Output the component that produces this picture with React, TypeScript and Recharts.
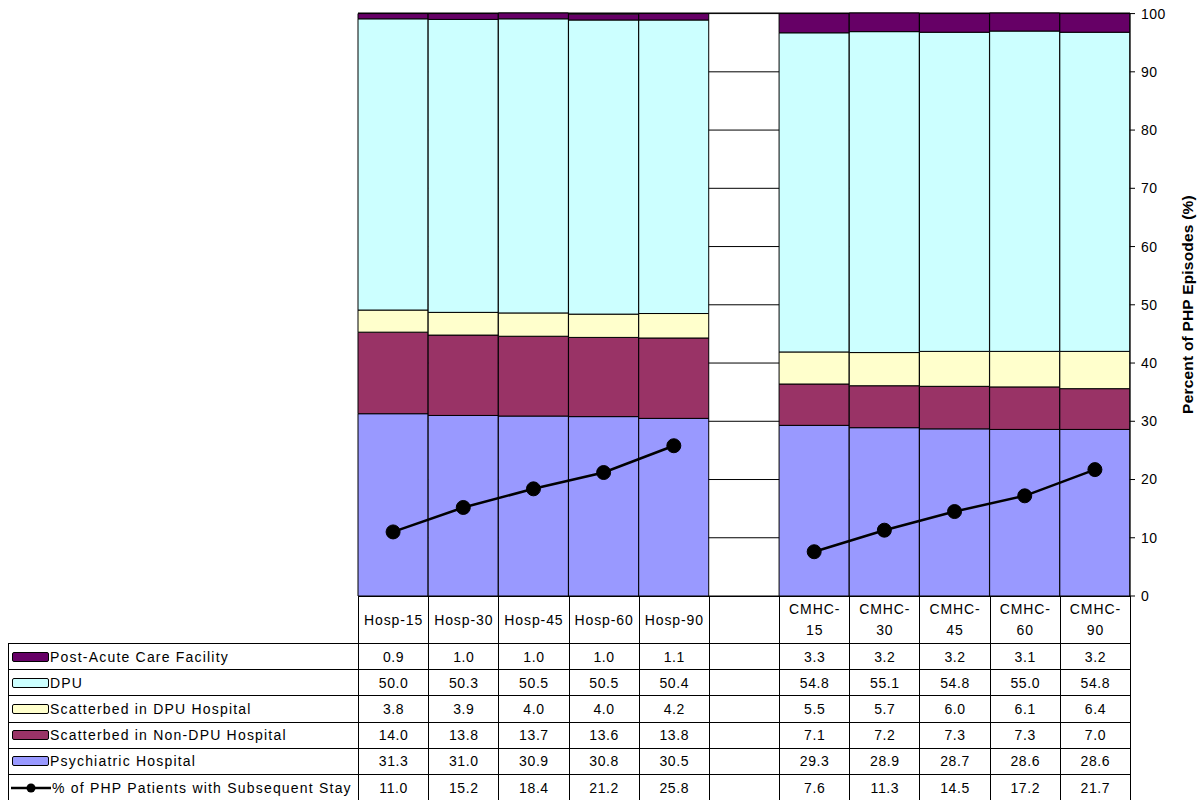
import React from 'react';
import { ComposedChart, Bar, Line, XAxis, YAxis, CartesianGrid, Label } from 'recharts';

const categories = ['Hosp-15', 'Hosp-30', 'Hosp-45', 'Hosp-60', 'Hosp-90', '', 'CMHC-15', 'CMHC-30', 'CMHC-45', 'CMHC-60', 'CMHC-90'];
const postAcute = [0.9, 1.0, 1.0, 1.0, 1.1, null, 3.3, 3.2, 3.2, 3.1, 3.2];
const dpu = [50.0, 50.3, 50.5, 50.5, 50.4, null, 54.8, 55.1, 54.8, 55.0, 54.8];
const scatterDpu = [3.8, 3.9, 4.0, 4.0, 4.2, null, 5.5, 5.7, 6.0, 6.1, 6.4];
const scatterNonDpu = [14.0, 13.8, 13.7, 13.6, 13.8, null, 7.1, 7.2, 7.3, 7.3, 7.0];
const psychiatric = [31.3, 31.0, 30.9, 30.8, 30.5, null, 29.3, 28.9, 28.7, 28.6, 28.6];
const subsequentStay = [11.0, 15.2, 18.4, 21.2, 25.8, null, 7.6, 11.3, 14.5, 17.2, 21.7];
const yTicks = [0, 10, 20, 30, 40, 50, 60, 70, 80, 90, 100];

const data = categories.map((name, i) => ({
  name,
  postAcute: postAcute[i],
  dpu: dpu[i],
  scatterDpu: scatterDpu[i],
  scatterNonDpu: scatterNonDpu[i],
  psychiatric: psychiatric[i],
  subsequentStay: subsequentStay[i],
}));

// legend/table rows, top to bottom
const rows = [
  { label: 'Post-Acute Care Facility', values: postAcute, color: '#660066' },
  { label: 'DPU', values: dpu, color: '#CCFFFF' },
  { label: 'Scatterbed in DPU Hospital', values: scatterDpu, color: '#FFFFCC' },
  { label: 'Scatterbed in Non-DPU Hospital', values: scatterNonDpu, color: '#993366' },
  { label: 'Psychiatric Hospital', values: psychiatric, color: '#9999FF' },
  { label: '% of PHP Patients with Subsequent Stay', values: subsequentStay, color: null },
];

const FONT = '"Liberation Sans", Arial, sans-serif';
const PLOT_LEFT = 358;
const PLOT_RIGHT = 1130;
const PLOT_TOP = 13;
const PLOT_BOTTOM = 596;
const COL_W = (PLOT_RIGHT - PLOT_LEFT) / categories.length;
const HEAD_H = 47;
const ROW_H = 26.2;
const LEGEND_LEFT = 8;

function cellStyle(left: number, top: number, width: number, height: number): React.CSSProperties {
  return {
    position: 'absolute',
    left,
    top,
    width: width + 1,
    height: height + 1,
    boxSizing: 'border-box',
    border: '1px solid #000',
    display: 'flex',
    alignItems: 'center',
    justifyContent: 'center',
    fontSize: 14,
    letterSpacing: 0.6,
    color: '#000',
    whiteSpace: 'nowrap',
  };
}

function DataTable() {
  const headTop = PLOT_BOTTOM;
  const bodyTop = headTop + HEAD_H;
  return (
    <>
      {categories.map((c, i) => {
        const parts = c.startsWith('CMHC') ? [c.slice(0, 5), c.slice(5)] : [c];
        return (
          <div key={'h' + i} style={{ ...cellStyle(PLOT_LEFT + i * COL_W, headTop, COL_W, HEAD_H), flexDirection: 'column', lineHeight: '21px', letterSpacing: 0.9 }}>
            {parts.map((p, k) => <span key={k}>{p}</span>)}
          </div>
        );
      })}
      {rows.map((r, ri) => (
        <React.Fragment key={'r' + ri}>
          <div style={{ ...cellStyle(LEGEND_LEFT, bodyTop + ri * ROW_H, PLOT_LEFT - LEGEND_LEFT, ROW_H), justifyContent: 'flex-start', letterSpacing: 1.2 }}>
            {r.color ? (
              <span style={{ display: 'inline-block', width: 37, height: 10, marginLeft: 3, marginRight: 1, border: '1px solid #000', borderRadius: 2, background: r.color, boxSizing: 'border-box' }} />
            ) : (
              <svg width={40} height={12} style={{ marginLeft: 2, marginRight: 1 }}>
                <line x1={0} y1={6} x2={40} y2={6} stroke="#000" strokeWidth={2.5} />
                <circle cx={20} cy={6} r={4.5} fill="#000" />
              </svg>
            )}
            <span>{r.label}</span>
          </div>
          {r.values.map((v, i) => (
            <div key={i} style={cellStyle(PLOT_LEFT + i * COL_W, bodyTop + ri * ROW_H, COL_W, ROW_H)}>
              {v == null ? '' : v.toFixed(1)}
            </div>
          ))}
        </React.Fragment>
      ))}
    </>
  );
}

export default function App() {
  return (
    <div style={{ position: 'absolute', left: 0, top: 0, width: 1203, height: 800, background: '#fff', fontFamily: FONT, overflow: 'hidden' }}>
      <ComposedChart
        width={1203}
        height={800}
        data={data}
        margin={{ top: PLOT_TOP, right: 1203 - PLOT_RIGHT - 65, left: PLOT_LEFT, bottom: 800 - PLOT_BOTTOM }}
        barCategoryGap={0}
        barGap={0}
        style={{ fontFamily: FONT }}
      >
        <CartesianGrid vertical={false} stroke="#000" />
        <XAxis dataKey="name" hide />
        <YAxis
          orientation="right"
          domain={[0, 100]}
          ticks={yTicks}
          interval={0}
          width={65}
          tickSize={5}
          tickMargin={6}
          axisLine={{ stroke: '#000' }}
          tickLine={{ stroke: '#000' }}
          tick={{ fill: '#000', fontSize: 14, letterSpacing: 0.5 }}
        >
          <Label value="Percent of PHP Episodes (%)" angle={-90} position="center" dx={25} style={{ fontSize: 15.5, fontWeight: 700, fill: '#000', letterSpacing: 0.2 }} />
        </YAxis>
        <Bar dataKey="psychiatric" stackId="a" fill="#9999FF" stroke="#000" strokeWidth={1} isAnimationActive={false} />
        <Bar dataKey="scatterNonDpu" stackId="a" fill="#993366" stroke="#000" strokeWidth={1} isAnimationActive={false} />
        <Bar dataKey="scatterDpu" stackId="a" fill="#FFFFCC" stroke="#000" strokeWidth={1} isAnimationActive={false} />
        <Bar dataKey="dpu" stackId="a" fill="#CCFFFF" stroke="#000" strokeWidth={1} isAnimationActive={false} />
        <Bar dataKey="postAcute" stackId="a" fill="#660066" stroke="#000" strokeWidth={1} isAnimationActive={false} />
        <Line
          dataKey="subsequentStay"
          stroke="#000"
          strokeWidth={2.5}
          dot={{ r: 7, fill: '#000', stroke: '#000', strokeWidth: 1 }}
          activeDot={false}
          isAnimationActive={false}
        />
      </ComposedChart>
      <DataTable />
    </div>
  );
}
